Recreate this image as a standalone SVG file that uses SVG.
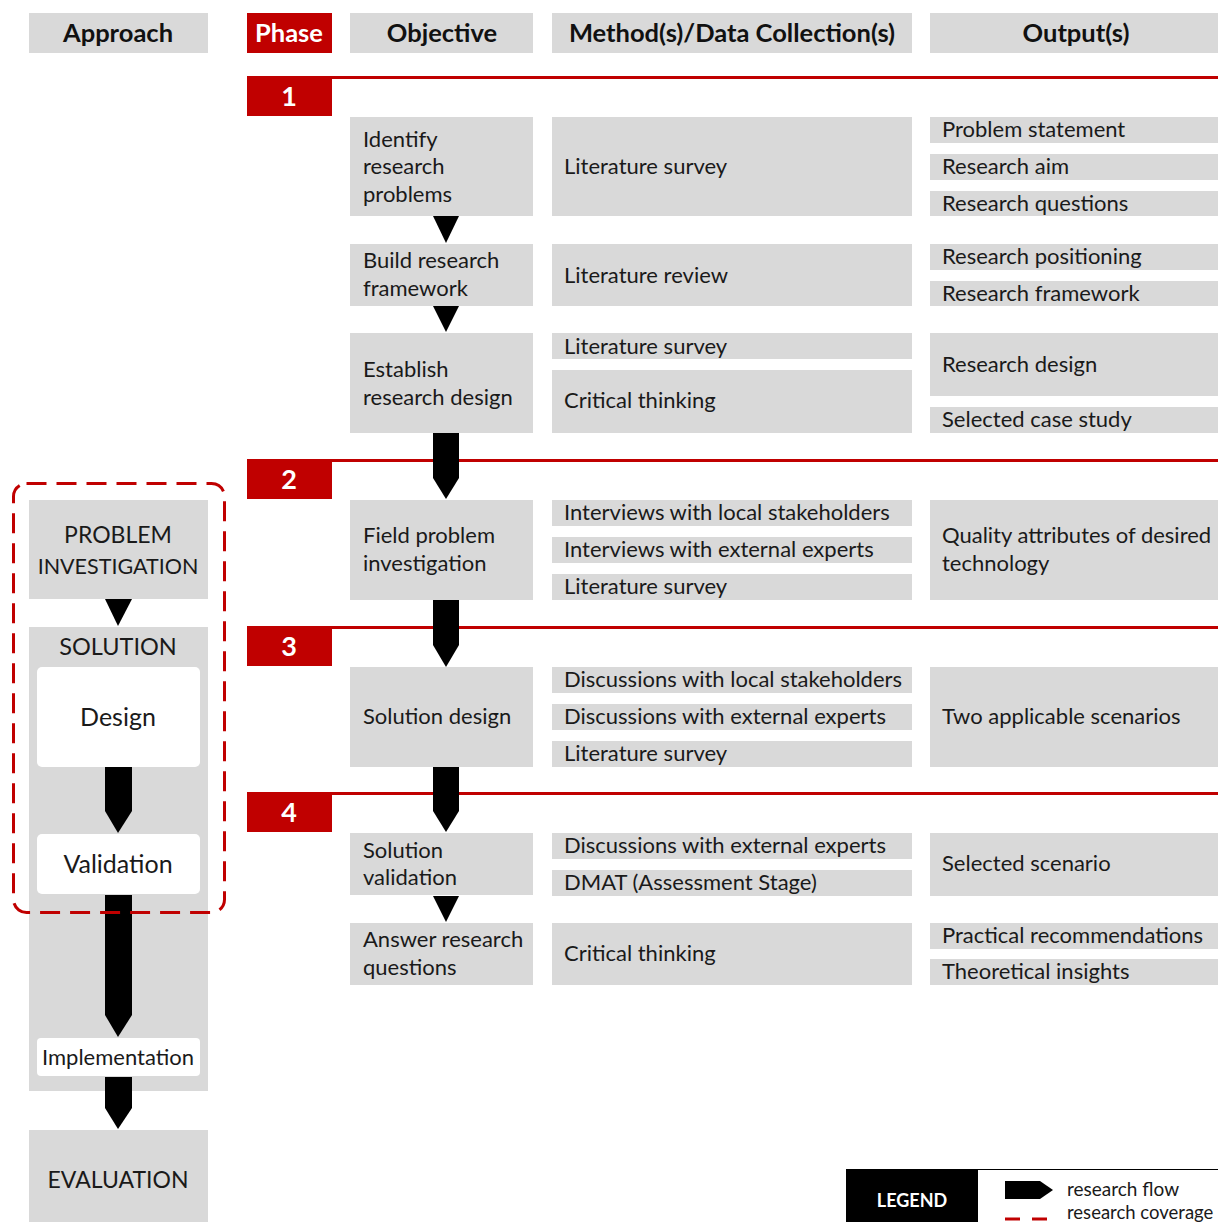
<svg xmlns="http://www.w3.org/2000/svg" width="1218" height="1222" viewBox="0 0 1218 1222">
<style>
.g{fill:#d9d9d9}
.w{fill:#ffffff}
.r{fill:#c00000}
.t{font-family:"Lato","Liberation Sans",sans-serif;font-size:22px;fill:#1a1a1a}
.h{font-family:"Lato","Liberation Sans",sans-serif;font-size:25.5px;font-weight:bold;fill:#111;text-anchor:middle}
.hw{font-family:"Lato","Liberation Sans",sans-serif;font-size:25.5px;font-weight:bold;fill:#fff;text-anchor:middle}
.n{font-family:"Lato","Liberation Sans",sans-serif;font-size:27px;font-weight:bold;fill:#fff;text-anchor:middle}
.c{text-anchor:middle}
.rl{stroke:#c00000;stroke-width:3;fill:none}
.ar{fill:#000}
</style>
<rect width="1218" height="1222" fill="#fff"/>
<g id="headers">
<rect class="g" x="29" y="13" width="179" height="40"/><text class="h" x="118" y="42">Approach</text>
<rect class="r" x="247" y="13" width="85" height="40"/><text class="hw" x="289" y="42">Phase</text>
<rect class="g" x="350" y="13" width="183" height="40"/><text class="h" x="442" y="42">Objective</text>
<rect class="g" x="552" y="13" width="360" height="40"/><text class="h" x="732" y="42">Method(s)/Data Collection(s)</text>
<rect class="g" x="930" y="13" width="288" height="40"/><text class="h" x="1076" y="42">Output(s)</text>
</g>
<g id="phases">
<line class="rl" x1="247" y1="77.5" x2="1218" y2="77.5"/><rect class="r" x="247" y="76" width="85" height="40"/><text class="n" x="289" y="106">1</text>
<line class="rl" x1="247" y1="460.5" x2="1218" y2="460.5"/><rect class="r" x="247" y="459" width="85" height="40"/><text class="n" x="289" y="489">2</text>
<line class="rl" x1="247" y1="627.5" x2="1218" y2="627.5"/><rect class="r" x="247" y="626" width="85" height="40"/><text class="n" x="289" y="656">3</text>
<line class="rl" x1="247" y1="793.5" x2="1218" y2="793.5"/><rect class="r" x="247" y="792" width="85" height="40"/><text class="n" x="289" y="822">4</text>
</g>
<g id="objectives">
<g id="obj1"><rect class="g" x="350" y="117" width="183" height="99"/><text class="t" x="363" y="147">Identify</text><text class="t" x="363" y="174">research</text><text class="t" x="363" y="202">problems</text></g>
<g id="obj2"><rect class="g" x="350" y="244" width="183" height="62"/><text class="t" x="363" y="268">Build research</text><text class="t" x="363" y="296">framework</text></g>
<g id="obj3"><rect class="g" x="350" y="333" width="183" height="100"/><text class="t" x="363" y="377">Establish</text><text class="t" x="363" y="405">research design</text></g>
<g id="obj4"><rect class="g" x="350" y="500" width="183" height="100"/><text class="t" x="363" y="543">Field problem</text><text class="t" x="363" y="571">investigation</text></g>
<g id="obj5"><rect class="g" x="350" y="667" width="183" height="100"/><text class="t" x="363" y="724">Solution design</text></g>
<g id="obj6"><rect class="g" x="350" y="833" width="183" height="62"/><text class="t" x="363" y="858">Solution</text><text class="t" x="363" y="885">validation</text></g>
<g id="obj7"><rect class="g" x="350" y="923" width="183" height="62"/><text class="t" x="363" y="947">Answer research</text><text class="t" x="363" y="975">questions</text></g>
</g>
<g id="methods">
<rect class="g" x="552" y="117" width="360" height="99"/><text class="t" x="564" y="174">Literature survey</text>
<rect class="g" x="552" y="244" width="360" height="62"/><text class="t" x="564" y="283">Literature review</text>
<rect class="g" x="552" y="333" width="360" height="26"/><text class="t" x="564" y="354">Literature survey</text>
<rect class="g" x="552" y="370" width="360" height="63"/><text class="t" x="564" y="408">Critical thinking</text>
<rect class="g" x="552" y="500" width="360" height="26"/><text class="t" x="564" y="520">Interviews with local stakeholders</text>
<rect class="g" x="552" y="537" width="360" height="26"/><text class="t" x="564" y="557">Interviews with external experts</text>
<rect class="g" x="552" y="574" width="360" height="26"/><text class="t" x="564" y="594">Literature survey</text>
<rect class="g" x="552" y="667" width="360" height="26"/><text class="t" x="564" y="687">Discussions with local stakeholders</text>
<rect class="g" x="552" y="704" width="360" height="26"/><text class="t" x="564" y="724">Discussions with external experts</text>
<rect class="g" x="552" y="741" width="360" height="26"/><text class="t" x="564" y="761">Literature survey</text>
<rect class="g" x="552" y="833" width="360" height="26"/><text class="t" x="564" y="853">Discussions with external experts</text>
<rect class="g" x="552" y="870" width="360" height="26"/><text class="t" x="564" y="890">DMAT (Assessment Stage)</text>
<rect class="g" x="552" y="923" width="360" height="62"/><text class="t" x="564" y="961">Critical thinking</text>
</g>
<g id="outputs">
<rect class="g" x="930" y="117" width="288" height="26"/><text class="t" x="942" y="137">Problem statement</text>
<rect class="g" x="930" y="154" width="288" height="26"/><text class="t" x="942" y="174">Research aim</text>
<rect class="g" x="930" y="191" width="288" height="25"/><text class="t" x="942" y="211">Research questions</text>
<rect class="g" x="930" y="244" width="288" height="26"/><text class="t" x="942" y="264">Research positioning</text>
<rect class="g" x="930" y="281" width="288" height="25"/><text class="t" x="942" y="301">Research framework</text>
<rect class="g" x="930" y="333" width="288" height="63"/><text class="t" x="942" y="372">Research design</text>
<rect class="g" x="930" y="407" width="288" height="26"/><text class="t" x="942" y="427">Selected case study</text>
<rect class="g" x="930" y="500" width="288" height="100"/><text class="t" x="942" y="543">Quality attributes of desired</text><text class="t" x="942" y="571">technology</text>
<rect class="g" x="930" y="667" width="288" height="100"/><text class="t" x="942" y="724">Two applicable scenarios</text>
<rect class="g" x="930" y="833" width="288" height="63"/><text class="t" x="942" y="871">Selected scenario</text>
<rect class="g" x="930" y="923" width="288" height="26"/><text class="t" x="942" y="943">Practical recommendations</text>
<rect class="g" x="930" y="959" width="288" height="26"/><text class="t" x="942" y="979">Theoretical insights</text>
</g>
<g id="approach">
<g id="problem-investigation"><rect class="g" x="29" y="500" width="179" height="99"/><text class="t c" x="118" y="543" style="font-size:23px">PROBLEM</text><text class="t c" x="118" y="574" style="font-size:21.5px">INVESTIGATION</text></g>
<g id="solution"><rect class="g" x="29" y="627" width="179" height="464"/><text class="t c" x="118" y="655" style="font-size:23.5px">SOLUTION</text></g>
<g id="design"><rect class="w" x="37" y="667" width="163" height="100" rx="5"/><text class="t c" x="118" y="726" style="font-size:25px">Design</text></g>
<g id="validation"><rect class="w" x="37" y="834" width="163" height="60" rx="5"/><text class="t c" x="118" y="873" style="font-size:25px">Validation</text></g>
<g id="implementation"><rect class="w" x="37" y="1038" width="163" height="38" rx="4"/><text class="t c" x="118" y="1065" style="font-size:22px">Implementation</text></g>
<g id="evaluation"><rect class="g" x="29" y="1130" width="179" height="92"/><text class="t c" x="118" y="1188" style="font-size:23px">EVALUATION</text></g>
</g>
<g id="connectors">
<polygon class="ar" points="433,216 459,216 446,243"/>
<polygon class="ar" points="433,306 459,306 446,332"/>
<polygon class="ar" points="433,433 459,433 459,478 446,499 433,478"/>
<polygon class="ar" points="433,600 459,600 459,645 446,667 433,645"/>
<polygon class="ar" points="433,767 459,767 459,811 446,832 433,811"/>
<polygon class="ar" points="433,896 459,896 446,922"/>
<polygon class="ar" points="105,599 132,599 118,626"/>
<polygon class="ar" points="105,767 132,767 132,811 118,833 105,811"/>
<polygon class="ar" points="105,895 132,895 132,1015 118,1037 105,1015"/>
<polygon class="ar" points="105,1077 132,1077 132,1108 118,1129 105,1108"/>
<rect x="13.5" y="483.5" width="211" height="429" rx="13" fill="none" stroke="#c00000" stroke-width="3" stroke-dasharray="20 10"/>
</g>
<g id="legend">
<rect x="846" y="1169" width="132" height="53" fill="#000"/>
<text class="hw" x="912" y="1207" style="font-size:18px">LEGEND</text>
<line x1="978" y1="1169.5" x2="1218" y2="1169.5" stroke="#000" stroke-width="1"/>
<polygon class="ar" points="1005,1181 1040,1181 1053,1190 1040,1199 1005,1199"/>
<text class="t" x="1067" y="1196" style="font-size:19px">research flow</text>
<line x1="1005" y1="1219" x2="1020" y2="1219" stroke="#c00000" stroke-width="3"/>
<line x1="1032" y1="1219" x2="1047" y2="1219" stroke="#c00000" stroke-width="3"/>
<text class="t" x="1067" y="1219" style="font-size:18.5px">research coverage</text>
</g>
</svg>
